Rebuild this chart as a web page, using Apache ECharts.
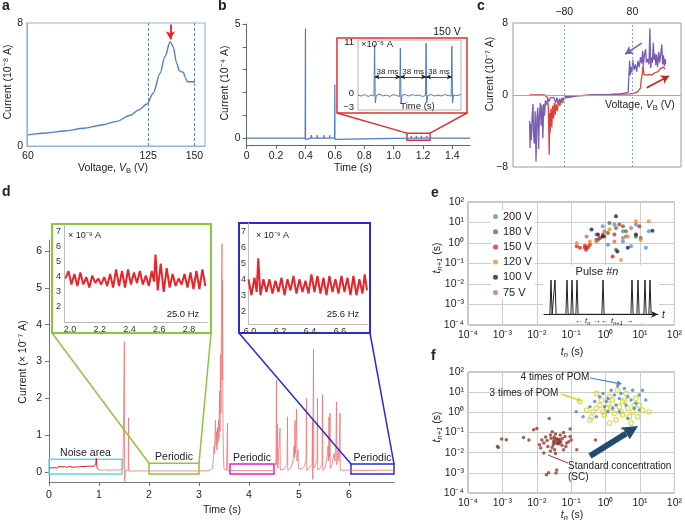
<!DOCTYPE html>
<html><head><meta charset="utf-8">
<script src="https://cdn.jsdelivr.net/npm/echarts@6.0.0/dist/echarts.min.js"></script>
<style>html,body{margin:0;padding:0;background:#fff;}#chart{width:685px;height:522px;}</style>
</head><body><div id="chart"></div>
<script>
// ---------------- DATA ----------------
// panel a : I-V curve (V, 1e-8 A)
const aCurve = [[60,0.72],[70,0.85],[80,0.98],[90,1.15],[100,1.37],[108,1.6],[115,1.98],[120,2.35],[124.3,2.73],[127.7,3.43],[131.4,4.73],[134,5.8],[136.9,6.78],[138.5,6.46],[140.4,5.38],[141.8,4.9],[143,4.82],[144,4.8],[145,4.45],[146.3,4.18],[150.3,4.18]];
const aXTicks = [60,125,150];
const aYTicks = [0,8];
const aMarks = [125,150];
const aPeakV = 137;
// panel b : current vs time (1e-4 A)
const bTrace = [[0,0],[0.398,0],[0.3995,-0.08],[0.400,4.8],[0.4005,-0.05],[0.402,0],[0.438,0],[0.440,0.13],[0.442,0],[0.478,0],[0.480,0.13],[0.482,0],[0.523,0],[0.525,0.13],[0.527,0],[0.563,0],[0.565,0.12],[0.567,0],[0.598,0],[0.5995,-0.05],[0.600,2.35],[0.6005,-0.05],[0.602,0],[1.118,0],[1.120,0.1],[1.122,0],[1.153,0],[1.155,0.1],[1.157,0],[1.188,0],[1.190,0.1],[1.192,0],[1.223,0],[1.225,0.1],[1.227,0],[1.52,0]];
const bXTicks = [0,0.2,0.4,0.6,0.8,1.0,1.2,1.4];
const bYTicks = [0,1,2,3,4,5];
const bYLabels = [0,5];
const bZoomTrace = [[1.100,-0.3],[1.105,-0.5],[1.110,-0.2],[1.115,-0.6],[1.120,-0.3],[1.1235,-0.5],[1.1245,10.5],[1.1255,-2.0],[1.127,-0.4],[1.132,-0.1],[1.137,-0.5],[1.142,-0.3],[1.147,-0.6],[1.152,-0.2],[1.157,-0.4],[1.1615,-0.6],[1.1625,9.8],[1.1635,-2.2],[1.165,-0.3],[1.170,-0.2],[1.175,-0.5],[1.180,-0.2],[1.185,-0.4],[1.190,-0.3],[1.195,-0.6],[1.1995,-0.4],[1.2005,10.8],[1.2015,-1.9],[1.203,-0.4],[1.208,-0.2],[1.213,-0.5],[1.218,-0.3],[1.223,-0.5],[1.228,-0.2],[1.233,-0.4],[1.2375,-0.5],[1.2385,10.2],[1.2395,-2.0],[1.241,-0.3],[1.246,-0.4],[1.252,-0.2]];
const bZoomYTicks = [-3,0,11];
const bSpikeTimes = [1.1245,1.1625,1.2005,1.2385];
const bIntervalLabel = '38 ms';
// panel c : hysteresis (V, 1e-7 A)
const cPurple = [[-161,-2.9],[-160,-5.9],[-159,-3.2],[-157,-5.0],[-155,-2.3],[-153,-1.0],[-152,-4.1],[-150,-5.4],[-148,-1.8],[-146,-7.4],[-144,-2.6],[-142,-1.4],[-140,-6.0],[-138,-2.2],[-136,-0.9],[-134,-3.4],[-132,-1.1],[-130,-4.8],[-128,-1.0],[-126,-2.3],[-124,-0.6],[-121,-1.1],[-118,-0.4],[-115,-0.7],[-112,-0.3],[-108,-0.5],[-104,-0.3],[-100,-0.9],[-97,-0.3],[-94,-1.0],[-91,-0.4],[-88,-0.8],[-85,-0.3],[-82,-0.6],[-79,-0.2],[-75,-0.35],[-70,-0.15],[-62,-0.2],[-52,-0.1],[-40,-0.08],[-25,-0.05],[-10,0],[10,0.03],[30,0.06],[50,0.12],[62,0.2],[70,0.3],[73,0.35],[73.5,3.8],[75,2.2],[77,3.1],[79,2.5],[81,3.9],[84,2.8],[87,3.4],[90,2.6],[93,3.8],[96,3.1],[99,4.2],[102,3.5],[104,4.9],[106,3.3],[108,4.4],[111,5.1],[113,3.6],[116,4.0],[119,3.4],[121,7.4],[123,3.0],[125,4.2],[127,3.6],[129,5.8],[131,3.9],[133,4.6],[135,3.3],[137,4.5],[139,3.1],[142,4.8],[144,3.6],[146,4.3],[149,5.6],[151,3.4],[153,4.4],[155,3.2],[157,4.0],[158,3.4]];
const cRed = [[-161,0],[-140,0],[-126,0],[-122,-0.1],[-119,-0.3],[-117,-1.5],[-116,-4.0],[-115,-6.6],[-114,-2.0],[-113,-4.2],[-111,-1.5],[-109,-3.6],[-107,-1.2],[-105,-2.6],[-103,-0.9],[-101,-2.2],[-99,-1.0],[-96,-1.8],[-93,-0.6],[-90,-1.2],[-87,-0.5],[-84,-0.9],[-81,-0.4],[-78,-0.5],[-74,-0.3],[-68,-0.25],[-60,-0.15],[-50,-0.1],[-35,-0.05],[-20,0],[0,0.02],[20,0.05],[40,0.08],[60,0.1],[75,0.12],[85,0.2],[92,0.35],[96,0.5],[99,0.8],[101,1.8],[103,2.2],[105,3.3],[107,2.3],[110,2.1],[115,2.2],[120,2.3],[125,2.2],[130,2.4],[135,2.5],[140,2.6],[145,2.9],[149,2.7],[152,3.1],[155,3.3],[157,2.9]];
const cXTicks = [-80,80];
const cYTicks = [-8,0,8];
// panel d : long recording (s, 1e-7 A)
const dNoise = [[0.00,0.12],[0.03,0.15],[0.05,0.11],[0.08,0.14],[0.10,0.12],[0.13,0.16],[0.15,0.11],[0.18,0.13],[0.20,0.15],[0.23,0.11],[0.26,0.14],[0.28,0.12],[0.31,0.15],[0.34,0.11],[0.36,0.13],[0.39,0.12],[0.42,0.15],[0.45,0.11],[0.48,0.13],[0.51,0.12],[0.54,0.14],[0.57,0.11],[0.60,0.14],[0.63,0.12],[0.66,0.15],[0.69,0.12],[0.72,0.15],[0.75,0.13],[0.78,0.16],[0.81,0.13],[0.84,0.16],[0.87,0.17],[0.90,0.16],[0.92,0.2],[0.935,0.22],[0.945,0.37],[0.96,0.12],[0.99,0.06]];
const dTrace = [[0.99,0.06],[1.05,0.05],[1.12,0.06],[1.2,0.05],[1.28,0.06],[1.35,0.05],[1.42,0.06],[1.48,0.08],[1.50,0.05],[1.507,3.54],[1.512,-0.25],[1.53,0.05],[1.585,0.05],[1.59,1.47],[1.595,0.02],[1.65,0.03],[1.8,0.03],[2.0,0.03],[2.2,0.03],[2.4,0.03],[2.6,0.03],[2.8,0.03],[3.0,0.03],[3.2,0.04],[3.27,0.1],[3.29,0.4],[3.30,0.7],[3.31,0.5],[3.32,1.0],[3.33,1.4],[3.34,0.7],[3.35,1.1],[3.36,0.6],[3.37,1.2],[3.38,0.8],[3.39,1.4],[3.40,0.9],[3.41,2.2],[3.42,1.1],[3.43,3.2],[3.44,1.6],[3.45,4.8],[3.46,6.2],[3.465,2.5],[3.47,5.2],[3.48,1.2],[3.49,0.4],[3.50,0.08],[3.55,0.05],[3.565,0.05],[3.57,1.33],[3.575,0.04],[3.7,0.04],[3.9,0.04],[4.1,0.04],[4.3,0.04],[4.50,0.05],[4.54,0.3],[4.55,2.5],[4.555,0.2],[4.57,1.3],[4.575,0.1],[4.61,0.15],[4.62,1.2],[4.625,0.06],[4.7,0.08],[4.76,0.2],[4.77,1.5],[4.775,0.05],[4.83,0.1],[4.88,0.3],[4.90,0.7],[4.91,0.4],[4.92,1.4],[4.93,0.5],[4.94,0.9],[4.95,1.7],[4.96,0.3],[4.98,0.6],[4.99,0.1],[5.05,0.08],[5.1,0.15],[5.14,0.3],[5.15,2.0],[5.155,0.05],[5.2,0.1],[5.26,0.2],[5.27,1.4],[5.275,-0.2],[5.29,3.34],[5.295,0.1],[5.33,0.15],[5.36,0.3],[5.37,2.0],[5.375,0.05],[5.42,0.1],[5.46,0.2],[5.47,2.1],[5.475,0.05],[5.52,0.1],[5.56,0.4],[5.58,0.7],[5.59,0.3],[5.60,1.5],[5.61,0.4],[5.62,1.6],[5.625,0.1],[5.66,0.2],[5.70,0.5],[5.72,0.3],[5.74,0.8],[5.75,1.9],[5.755,0.2],[5.78,0.6],[5.80,0.3],[5.82,1.6],[5.825,0.05],[5.86,0.05],[6.0,0.05],[6.3,0.04],[6.6,0.05],[6.9,0.05]];
const dXTicks = [0,1,2,3,4,5,6];
const dYTicks = [0,1,2,3,4,5,6];
const dBoxes = [
  {name:'Noise area', x0:0.0, x1:1.46, y0:-0.05, y1:0.35, color:'#5fd8ea'},
  {name:'Periodic', x0:2.0, x1:3.0, y0:-0.05, y1:0.24, color:'#8cc63f'},
  {name:'Periodic', x0:3.62, x1:4.5, y0:-0.05, y1:0.22, color:'#e020d0'},
  {name:'Periodic', x0:6.04, x1:6.9, y0:-0.05, y1:0.22, color:'#2b2bd0'}
];
// insets of d (1e-9 A)
const gTrace = [[1.97,3.9],[1.99,4.4],[2.01,3.5],[2.03,4.2],[2.05,3.4],[2.07,4.3],[2.09,3.5],[2.11,4.0],[2.13,3.3],[2.15,4.1],[2.17,3.6],[2.19,3.9],[2.21,3.5],[2.23,4.0],[2.25,3.4],[2.27,4.2],[2.29,3.3],[2.31,4.5],[2.33,3.4],[2.35,4.4],[2.37,3.3],[2.39,4.5],[2.41,3.5],[2.43,4.3],[2.45,3.6],[2.47,4.4],[2.49,3.5],[2.51,4.1],[2.53,3.4],[2.55,4.4],[2.565,3.7],[2.575,5.5],[2.59,3.1],[2.61,4.9],[2.63,3.0],[2.65,4.6],[2.67,3.3],[2.69,4.2],[2.71,3.4],[2.73,3.9],[2.75,3.5],[2.77,4.2],[2.79,3.3],[2.81,4.3],[2.83,3.2],[2.85,4.4],[2.87,3.2],[2.89,4.5],[2.91,3.4]];
const gXTicks = [2.0,2.2,2.4,2.6,2.8];
const gYTicks = [2,3,4,5,6,7];
const uTrace = [[5.99,4.0],[6.01,3.0],[6.03,4.1],[6.045,3.2],[6.055,5.3],[6.07,3.0],[6.09,4.0],[6.11,3.2],[6.13,4.0],[6.15,3.1],[6.17,3.9],[6.19,3.2],[6.21,4.1],[6.23,3.0],[6.25,4.0],[6.27,3.3],[6.29,4.2],[6.31,3.1],[6.33,4.0],[6.35,3.2],[6.37,3.9],[6.39,3.1],[6.41,4.3],[6.43,3.2],[6.45,4.2],[6.47,3.1],[6.49,4.1],[6.51,3.0],[6.53,4.2],[6.55,3.2],[6.57,4.0],[6.59,3.1],[6.61,4.2],[6.63,3.2],[6.65,4.1],[6.67,3.0],[6.69,4.2],[6.71,3.0],[6.73,4.0],[6.75,3.1],[6.765,4.3],[6.78,3.3]];
const uXTicks = [6.0,6.2,6.4,6.6];
const uYTicks = [2,3,4,5,6,7];
// panel e : return maps per voltage (tn, tn+1 in s)
const e200x = [0.83,1.8,3.2,7.6,18,1.17,3.2,5.5,14.8,0.68,3.9,0.54];
const e200y = [6.6,7.9,3.7,7.9,3.7,0.83,1.2,0.69,0.58,1.74,2.1,2.6];
const e180x = [1.17,2.0,1.3,3.9,7.6,2.0,0.6,3.2,10.5,0.93];
const e180y = [3.1,5.4,9.5,3.7,2.1,0.47,1.45,6.6,1.74,2.1];
const e150x = [0.145,0.18,0.25,0.28,0.31,0.27,0.35,0.68,1.8,2.5,9.5,1.6,0.54,0.83,0.25];
const e150y = [0.69,0.58,0.74,0.58,0.63,0.47,0.83,1.74,2.6,7.9,6.6,0.22,1.45,2.6,0.58];
const e120x = [0.145,7.6,18,2.8,10.5,0.35,1.3,4.4];
const e120y = [1.0,11.5,11.5,0.15,1.45,1.2,4.5,2.1];
const e100x = [0.39,2.0,7.6,23,2.2,4.4,0.83,0.6];
const e100y = [4.5,20,2.6,4.0,0.39,0.58,2.1,2.6];
const e75x = [0.93,5.5,1.8,0.54,3.2,0.28];
const e75y = [3.7,5.4,1.2,1.2,1.74,2.1];
const eNames = ['200 V','180 V','150 V','120 V','100 V','75 V'];
const pulseTimes = [7,11,23,28,33,59,88,94,101,106];
const logTicks = [1e-4,1e-3,1e-2,1e-1,1,10,100];
// panel f
const scX = [7.2e-4,7.6e-4,9.5e-4,1.3e-3,4.1e-3,5.9e-3,8.1e-3,0.010,0.014,0.013,0.016,0.018,0.021,0.023,0.025,0.028,0.031,0.033,0.036,0.019,0.022,0.038,0.043,0.048,0.054,0.060,0.066,0.093,0.10,0.145,0.51,0.038,0.016,0.030,0.035,0.040,0.050,0.026,0.074,0.035,0.093,0.045,0.032,0.055,0.028,0.020,0.012,0.060,0.070,0.025,0.085];
const scY = [0.020,0.018,0.048,0.044,0.056,0.043,0.135,0.16,0.043,0.017,0.0095,0.059,0.020,0.5,0.076,0.11,0.035,0.014,0.00098,0.00081,0.0010,0.047,0.028,0.076,0.023,0.014,0.063,0.15,0.043,0.014,0.043,0.0014,0.030,0.025,0.085,0.030,0.035,0.052,0.030,0.0091,0.063,0.040,0.060,0.050,0.018,0.040,0.025,0.10,0.020,0.012,0.035];
const scBig = [0.038,0.037];
const pom3x = [0.18,0.28,0.39,0.54,0.68,0.83,0.93,1.17,1.3,1.45,1.8,2.0,2.5,3.1,3.5,4.4,4.9,6.1,7.6,9.5,11.8,18.3,0.54,2.25,3.9,0.35,1.3,5.5,3.1,8.5,0.75,1.05,2.8,0.43,1.6,6.8];
const pom3y = [3.4,1.3,0.57,1.6,2.3,1.07,0.74,2.8,5.9,1.6,0.89,0.42,1.9,0.74,4.1,1.6,0.61,1.07,4.9,2.3,1.3,1.07,8.7,12.6,8.7,0.42,0.29,0.29,3.4,0.61,4.1,1.6,1.07,1.07,4.1,2.3];
const pom4x = [0.14,0.22,0.35,0.48,0.67,0.84,1.17,1.45,1.8,2.0,2.25,2.8,3.5,4.4,5.5,6.1,7.6,9.5,11.8,14.7,4.4,3.1,1.17,0.93,2.5,6.8,0.54,1.6,3.9,9.5,2.5,1.05];
const pom4y = [1.07,0.61,1.9,3.4,5.9,8.7,4.9,12.6,7.2,2.3,20,8.7,15,5.9,4.1,12.6,2.8,7.2,12.6,4.1,0.5,0.16,1.07,1.9,1.07,1.6,0.61,1.6,2.3,1.3,4.9,3.4];

// ---------------- HELPERS ----------------
const FONT = '"Liberation Sans", Arial, Helvetica, sans-serif';
const TXT = '#222';
const BLUE_A = '#8fb4e3';
const SUPS = {'-':'\u207B','0':'\u2070','1':'\u00B9','2':'\u00B2','3':'\u00B3','4':'\u2074','5':'\u2075','6':'\u2076','7':'\u2077','8':'\u2078','9':'\u2079'};
function sup(v){ const e = Math.round(Math.log10(v)); return '10' + String(e).split('').map(c => SUPS[c]).join(''); }
function minus(v){ return (v < 0 ? '\u2212' : '') + Math.abs(v); }
function zip(xs, ys){ return xs.map((x, i) => [x, ys[i]]); }
function AL(size, extra){ return Object.assign({fontSize:size, color:TXT, fontFamily:FONT}, extra); }
function richSet(size){
  const sub = {fontSize:size*0.72, fontFamily:FONT, fill:TXT, color:TXT, padding:[size*0.6,0,0,0]};
  return {
    n:{fontSize:size, fontFamily:FONT, fill:TXT, color:TXT},
    i:{fontSize:size, fontFamily:FONT, fontStyle:'italic', fill:TXT, color:TXT},
    s:sub,
    si:Object.assign({}, sub, {fontStyle:'italic'})
  };
}
function gText(x, y, text, o){
  o = o || {};
  const size = o.size || 10.5;
  const al = o.align || 'center';
  return {type:'text', x:x, y:y, rotation:o.rot || 0, z:20, silent:true,
    style:{text:text, fontSize:size, fontFamily:FONT, fontWeight:o.bold ? 'bold' : 'normal', fontStyle:o.italic ? 'italic' : 'normal',
      fill:o.color || TXT, align:al, textAlign:al, verticalAlign:'middle', textVerticalAlign:'middle', rich:richSet(size)}};
}
function gLine(x1, y1, x2, y2, color, w, z){
  return {type:'line', z:z || 10, silent:true, shape:{x1:x1, y1:y1, x2:x2, y2:y2}, style:{stroke:color, lineWidth:w}};
}
function gRect(x, y, w, h, stroke, lw, fill, z){
  return {type:'rect', z:z || 10, silent:true, shape:{x:x, y:y, width:w, height:h}, style:{fill:fill || '#fff', stroke:stroke, lineWidth:lw}};
}
function gArrow(x1, y1, x2, y2, color, w, hl, hw){
  const dx = x2 - x1, dy = y2 - y1, L = Math.hypot(dx, dy), ux = dx / L, uy = dy / L;
  const bx = x2 - ux * hl, by = y2 - uy * hl, px = -uy, py = ux;
  return [gLine(x1, y1, bx, by, color, w, 15),
    {type:'polygon', z:15, silent:true, shape:{points:[[x2, y2],[bx + px*hw, by + py*hw],[bx - px*hw, by - py*hw]]}, style:{fill:color}}];
}
const pulseData = [];
pulseTimes.forEach(t => { pulseData.push([t - 1.1, 0], [t, 1], [t + 1.1, 0]); });

function logAxis(gi, margin){
  return {type:'log', logBase:10, gridIndex:gi, min:1e-4, max:100, splitNumber:6,
    axisLine:{show:false}, axisTick:{show:false},
    splitLine:{show:true, lineStyle:{color:'#cdcdcd', width:1}},
    axisLabel:AL(10.5, {margin:margin, formatter:sup, customValues:logTicks})};
}

// ---------------- CHART ----------------
const chart = echarts.init(document.getElementById('chart'));
const eColors = ['#5b8fd0','#4c7a36','#e8261f','#f28a2e','#15244e','#cf6b6b'];
const eX = [e200x, e180x, e150x, e120x, e100x, e75x];
const eY = [e200y, e180y, e150y, e120y, e100y, e75y];

const option = {
  animation:false,
  textStyle:{fontFamily:FONT},
  grid:[
    {left:27, top:23, width:178, height:123, show:true, borderColor:BLUE_A, borderWidth:1.2},
    {left:246.7, top:24, width:223.3, height:121},
    {left:358, top:40, width:103, height:70, show:true, borderColor:'#b5b5b5', borderWidth:1, backgroundColor:'#fff', z:11},
    {left:513, top:23, width:168, height:144, show:true, borderColor:'#9a9a9a', borderWidth:1},
    {left:49, top:240, width:345, height:242},
    {left:64, top:224.5, width:143, height:97.5, z:11},
    {left:248, top:223.2, width:120, height:100.8, z:11},
    {left:468, top:202, width:209, height:123, show:true, borderColor:'#8a8a8a', borderWidth:1},
    {left:544, top:280, width:114, height:34.3, z:11},
    {left:468, top:372, width:209, height:121, show:true, borderColor:'#8a8a8a', borderWidth:1}
  ],
  xAxis:[
    {type:'value', gridIndex:0, min:59.5, max:155.7, axisLine:{show:true, onZero:false, lineStyle:{color:BLUE_A, width:1.2}}, axisTick:{show:false}, splitLine:{show:false}, axisLabel:AL(10.5, {customValues:aXTicks, margin:5})},
    {type:'value', gridIndex:1, min:0, max:1.52, axisLine:{show:true, onZero:false, lineStyle:{color:'#666'}}, axisTick:{show:true, customValues:bXTicks, length:4, lineStyle:{color:'#666'}}, splitLine:{show:false}, axisLabel:AL(10.5, {customValues:bXTicks, margin:6, formatter:v => v === 0 ? '0' : v.toFixed(1)})},
    {type:'value', gridIndex:2, min:1.1, max:1.252, show:false},
    {type:'value', gridIndex:3, position:'top', min:-200, max:194, axisLine:{show:false, onZero:false}, axisTick:{show:false}, splitLine:{show:false}, axisLabel:AL(10.5, {customValues:cXTicks, margin:5, formatter:minus})},
    {type:'value', gridIndex:4, min:0, max:6.9, axisLine:{show:true, onZero:false, lineStyle:{color:'#777'}}, axisTick:{show:true, customValues:dXTicks, length:4, lineStyle:{color:'#777'}}, splitLine:{show:false}, axisLabel:AL(10.5, {customValues:dXTicks, margin:8})},
    {type:'value', gridIndex:5, z:12, min:1.96, max:2.921, axisLine:{show:true, onZero:false, lineStyle:{color:'#bbb'}}, axisTick:{show:false}, splitLine:{show:false}, axisLabel:AL(9, {customValues:gXTicks, margin:3, color:'#333', formatter:v => v.toFixed(1)})},
    {type:'value', gridIndex:6, z:12, min:5.987, max:6.787, axisLine:{show:true, onZero:false, lineStyle:{color:'#bbb'}}, axisTick:{show:false}, splitLine:{show:false}, axisLabel:AL(9, {customValues:uXTicks, margin:3, color:'#333', formatter:v => v.toFixed(1)})},
    logAxis(7, 5),
    {type:'value', gridIndex:8, z:12, min:0, max:114, axisLine:{show:true, onZero:false, symbol:['none','arrow'], symbolSize:[5,7], lineStyle:{color:'#222', width:1}}, axisTick:{show:false}, axisLabel:{show:false}, splitLine:{show:false}},
    logAxis(9, 5)
  ],
  yAxis:[
    {type:'value', gridIndex:0, min:0, max:8, axisLine:{show:true, onZero:false, lineStyle:{color:BLUE_A, width:1.2}}, axisTick:{show:false}, splitLine:{show:false}, axisLabel:AL(10.5, {customValues:aYTicks, margin:4})},
    {type:'value', gridIndex:1, min:-0.3, max:5, axisLine:{show:true, onZero:false, lineStyle:{color:'#666'}}, axisTick:{show:true, customValues:bYTicks, length:4, lineStyle:{color:'#666'}}, splitLine:{show:false}, axisLabel:AL(10.5, {customValues:bYLabels, margin:6})},
    {type:'value', gridIndex:2, z:12, min:-3.5, max:11.5, axisLine:{show:false, onZero:false}, axisTick:{show:false}, splitLine:{show:false}, axisLabel:AL(9.5, {customValues:bZoomYTicks, margin:4, formatter:minus})},
    {type:'value', gridIndex:3, min:-8, max:8, axisLine:{show:false, onZero:false}, axisTick:{show:false}, splitLine:{show:false}, axisLabel:AL(10.5, {customValues:cYTicks, margin:5, formatter:minus})},
    {type:'value', gridIndex:4, min:-0.27, max:6.3, axisLine:{show:true, onZero:false, lineStyle:{color:'#777'}}, axisTick:{show:true, customValues:dYTicks, length:4, lineStyle:{color:'#777'}}, splitLine:{show:false}, axisLabel:AL(10.5, {customValues:dYTicks, margin:7})},
    {type:'value', gridIndex:5, z:12, min:1, max:7.5, axisLine:{show:true, onZero:false, lineStyle:{color:'#bbb'}}, axisTick:{show:false}, splitLine:{show:false}, axisLabel:AL(9, {customValues:gYTicks, margin:3, color:'#333'})},
    {type:'value', gridIndex:6, z:12, min:1.2, max:7.5, axisLine:{show:true, onZero:false, lineStyle:{color:'#bbb'}}, axisTick:{show:false}, splitLine:{show:false}, axisLabel:AL(9, {customValues:uYTicks, margin:2, color:'#333'})},
    logAxis(7, 4),
    {type:'value', gridIndex:8, min:0, max:1, show:false},
    logAxis(9, 4)
  ],
  legend:{
    data:eNames, orient:'vertical', left:491, top:210, itemWidth:5, itemHeight:5, itemGap:4.2, icon:'circle',
    backgroundColor:'#fff', padding:[1,3,1,2], selectedMode:false,
    textStyle:{fontFamily:FONT, fontSize:11, color:TXT, lineHeight:11}
  },
  series:[
    {type:'line', xAxisIndex:0, yAxisIndex:0, data:aCurve, smooth:0.3, smoothMonotone:'x', showSymbol:false, lineStyle:{color:'#4f7fcf', width:1.4},
      markLine:{silent:true, animation:false, symbol:'none', label:{show:false},
        data:[
          ...aMarks.map(v => ({xAxis:v, lineStyle:{color:'#5a86cc', type:[3,2], width:1}})),
          [{coord:[aPeakV,7.9], symbol:'none', lineStyle:{color:'#e8231e', width:1.8, type:'solid'}}, {coord:[aPeakV,6.95], symbol:'arrow', symbolSize:[7,8]}]
        ]}},
    {type:'line', xAxisIndex:1, yAxisIndex:1, data:bTrace, showSymbol:false, lineStyle:{color:'#4a7cc4', width:1.2},
      markArea:{silent:true, itemStyle:{color:'rgba(0,0,0,0)', borderColor:'#e03030', borderWidth:1.5}, label:{show:false},
        data:[[{xAxis:1.091, yAxis:0.22},{xAxis:1.248, yAxis:-0.09}]]}},
    {type:'line', xAxisIndex:2, yAxisIndex:2, z:13, data:bZoomTrace, showSymbol:false, lineStyle:{color:'#4a7cc4', width:1},
      markLine:{silent:true, animation:false, z:14, symbol:['arrow','arrow'], symbolSize:[4,5], lineStyle:{color:'#222', width:0.8, type:'solid'},
        label:{show:true, formatter:bIntervalLabel, position:'insideMiddleTop', fontSize:8, color:'#222', distance:1},
        data:bSpikeTimes.slice(0, -1).map((t, i) => [{coord:[t, 3.6]}, {coord:[bSpikeTimes[i + 1], 3.6]}])}},
    {type:'line', xAxisIndex:3, yAxisIndex:3, z:4, data:cPurple, showSymbol:false, lineStyle:{color:'#7b5cb3', width:1.3}},
    {type:'line', xAxisIndex:3, yAxisIndex:3, z:3, data:cRed, showSymbol:false, lineStyle:{color:'#d9433a', width:1.3},
      markLine:{silent:true, animation:false, symbol:'none', label:{show:false},
        data:[
          ...cXTicks.map(v => ({xAxis:v, lineStyle:{color:'#7aa6d6', type:[2,2], width:1}})),
          {yAxis:0, lineStyle:{color:'#a8a8a8', type:'solid', width:1}},
          [{coord:[101.9,5.77], symbol:'none', lineStyle:{color:'#7b5cb3', width:1.6, type:'solid'}}, {coord:[62.8,4.54], symbol:'arrow', symbolSize:[7,8]}],
          [{coord:[113.6,0.81], symbol:'none', lineStyle:{color:'#c8231e', width:1.6, type:'solid'}}, {coord:[165.8,2.12], symbol:'arrow', symbolSize:[7,8]}]
        ]}},
    {type:'line', xAxisIndex:4, yAxisIndex:4, data:dNoise, showSymbol:false, lineStyle:{color:'#e0201c', width:1}},
    {type:'line', xAxisIndex:4, yAxisIndex:4, data:dTrace, showSymbol:false, lineStyle:{color:'#f07575', width:0.8},
      markArea:{silent:true, itemStyle:{color:'rgba(0,0,0,0)', borderWidth:1.5},
        label:{show:true, position:'top', color:TXT, fontSize:10.5, fontFamily:FONT, distance:0},
        data:dBoxes.map(b => [{name:b.name, xAxis:b.x0, yAxis:b.y1, itemStyle:{borderColor:b.color}}, {xAxis:b.x1, yAxis:b.y0}])}},
    {type:'line', xAxisIndex:5, yAxisIndex:5, z:13, data:gTrace, showSymbol:false, lineStyle:{color:'#e8242a', width:2}},
    {type:'line', xAxisIndex:6, yAxisIndex:6, z:13, data:uTrace, showSymbol:false, lineStyle:{color:'#e8242a', width:2}},
    ...eNames.map((n, k) => ({type:'scatter', name:n, xAxisIndex:7, yAxisIndex:7, data:zip(eX[k], eY[k]), symbolSize:4, itemStyle:{color:eColors[k]}})),
    {type:'line', xAxisIndex:8, yAxisIndex:8, z:13, data:pulseData, showSymbol:false, lineStyle:{color:'#222', width:1}},
    {type:'scatter', xAxisIndex:9, yAxisIndex:9, data:zip(scX, scY), symbolSize:3.5, itemStyle:{color:'#93392b'}},
    {type:'scatter', xAxisIndex:9, yAxisIndex:9, data:[scBig], symbol:'rect', symbolSize:[8,7], itemStyle:{color:'#93392b'}},
    {type:'scatter', xAxisIndex:9, yAxisIndex:9, data:zip(pom3x, pom3y), symbolSize:4.5, itemStyle:{color:'rgba(255,255,255,0)', borderColor:'#d6d62a', borderWidth:1.2}},
    {type:'scatter', xAxisIndex:9, yAxisIndex:9, data:zip(pom4x, pom4y), symbolSize:3.5, itemStyle:{color:'#4e83c8'}}
  ]
};
chart.setOption(option);

// ---------------- ANNOTATIONS ----------------
function P(gi, xy){ return chart.convertToPixel({gridIndex:gi}, xy); }
const G = [];
// panel letters
G.push(gText(2, 6, 'a', {size:14, bold:true, align:'left'}));
G.push(gText(218, 6, 'b', {size:14, bold:true, align:'left'}));
G.push(gText(477, 6.5, 'c', {size:14, bold:true, align:'left'}));
G.push(gText(2, 192.5, 'd', {size:14, bold:true, align:'left'}));
G.push(gText(431, 193.5, 'e', {size:14, bold:true, align:'left'}));
G.push(gText(431, 356, 'f', {size:14, bold:true, align:'left'}));
// axis titles
G.push(gText(8, 82, 'Current (10\u207B\u2078 A)', {rot:Math.PI/2}));
G.push(gText(113, 168, '{n|Voltage, }{i|V}{s|B}{n| (V)}'));
G.push(gText(225, 83, 'Current (10\u207B\u2074 A)', {rot:Math.PI/2}));
G.push(gText(353, 168, 'Time (s)'));
G.push(gText(490, 74, 'Current (10\u207B\u2077 A)', {rot:Math.PI/2}));
G.push(gText(605, 105, '{n|Voltage, }{i|V}{s|B}{n| (V)}', {align:'left'}));
G.push(gText(23, 362, 'Current (\u00D7 10\u207B\u2077 A)', {rot:Math.PI/2}));
G.push(gText(222, 510, 'Time (s)'));
G.push(gText(437, 258, '{i|t}{si|n+1}{n| (s)}', {rot:Math.PI/2}));
G.push(gText(572, 352, '{i|t}{si|n}{n| (s)}'));
G.push(gText(437, 427, '{i|t}{si|n+1}{n| (s)}', {rot:Math.PI/2}));
G.push(gText(572, 515, '{i|t}{si|n}{n| (s)}'));
// panel b inset frame + connectors
G.push(gRect(337, 38, 130, 75, '#e03030', 1.5, '#fff', 10));
const bTL = P(1, [1.091, 0.22]), bTR = P(1, [1.248, 0.22]);
G.push(gLine(337, 113, bTL[0], bTL[1], '#e03030', 1.5, 10));
G.push(gLine(467, 113, bTR[0], bTR[1], '#e03030', 1.5, 10));
G.push(gText(447, 31.7, '150 V'));
G.push(gText(361, 44.3, '\u00D710\u207B\u2076 A', {size:9.5, align:'left'}));
G.push(gText(417.5, 106, 'Time (s)', {size:9.5}));
// panel d inset frames + connectors
G.push(gRect(52, 224, 159, 109, '#8cc63f', 2, '#fff', 10));
G.push(gRect(239, 223, 131, 110, '#2b2bd0', 2, '#fff', 10));
const gTL = P(4, [dBoxes[1].x0, dBoxes[1].y1]), gTR = P(4, [dBoxes[1].x1, dBoxes[1].y1]);
G.push(gLine(52, 333, gTL[0], gTL[1], '#8cc63f', 1.5, 10));
G.push(gLine(211, 333, gTR[0], gTR[1], '#8cc63f', 1.5, 10));
const uTL = P(4, [dBoxes[3].x0, dBoxes[3].y1]), uTR = P(4, [dBoxes[3].x1, dBoxes[3].y1]);
G.push(gLine(239, 333, uTL[0], uTL[1], '#2b2bd0', 1.5, 10));
G.push(gLine(370, 333, uTR[0], uTR[1], '#2b2bd0', 1.5, 10));
G.push(gText(68, 236, '\u00D7 10\u207B\u2079 A', {size:9, align:'left'}));
G.push(gText(256, 236, '\u00D7 10\u207B\u2079 A', {size:9, align:'left'}));
G.push(gText(183, 314, '25.0 Hz', {size:9.5}));
G.push(gText(343, 314, '25.6 Hz', {size:9.5}));
// panel e pulse inset
G.push(gRect(543, 265, 116, 58, 'rgba(0,0,0,0)', 0, '#fff', 10));
G.push(gText(597, 272, '{n|Pulse #}{i|n}', {size:11}));
G.push(gText(662, 315, 't', {size:10, italic:true, align:'left'}));
G.push(gText(604, 320.5, '{n|\u2190 }{i|t}{si|n}{n| \u2192\u2190 }{i|t}{si|n+1}{n| \u2192}', {size:8}));
// panel f annotations
G.push(gText(555, 377, '4 times of POM', {size:10}));
G.push(...gArrow(590, 378, 622, 384, '#4e83c8', 1.2, 5, 2.5));
G.push(gText(524, 393, '3 times of POM', {size:10}));
G.push(...gArrow(561, 394, 582, 401, '#d6d62a', 1.5, 5, 2.5));
G.push(...gArrow(590, 456, 638, 426, '#1f4b75', 6, 14, 7));
G.push(gLine(548, 455, 568, 463, '#93392b', 1, 15));
G.push(gText(568, 466, 'Standard concentration', {size:10, align:'left'}));
G.push(gText(568, 477, '(SC)', {size:10, align:'left'}));
chart.setOption({graphic:{elements:G}});
</script></body></html>
